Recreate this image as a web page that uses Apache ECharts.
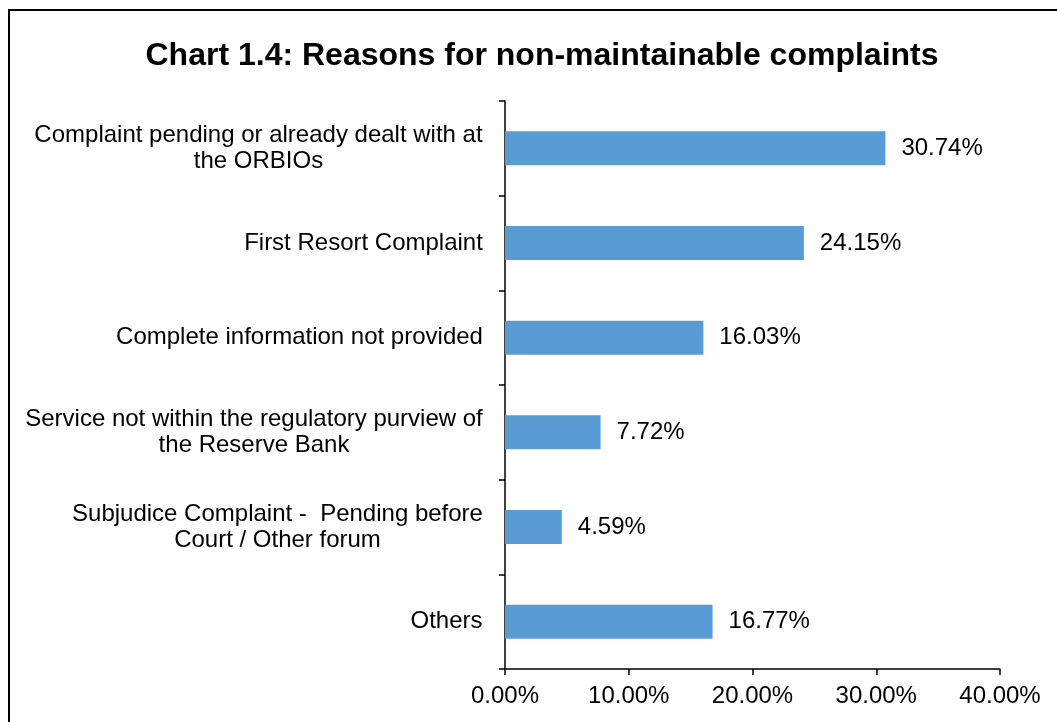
<!DOCTYPE html>
<html><head><meta charset="utf-8">
<script src="https://cdn.jsdelivr.net/npm/echarts@6/dist/echarts.min.js"></script>
<style>
html,body{margin:0;padding:0;background:#fff;overflow:hidden;}
#frame{position:absolute;left:8px;top:9px;width:1100px;height:800px;border:2px solid #000;box-sizing:border-box;}
#c{position:absolute;left:0;top:0;width:1057px;height:722px;}
</style></head><body>
<div id="frame"></div>
<div id="c"></div>
<script>
const categories = [
  "Complaint pending or already dealt with at\nthe ORBIOs",
  "First Resort Complaint",
  "Complete information not provided",
  "Service not within the regulatory purview of\nthe Reserve Bank",
  "Subjudice Complaint -  Pending before\nCourt / Other forum",
  "Others"
];
const values = [30.74, 24.15, 16.03, 7.72, 4.59, 16.77];
const xTicks = [0, 10, 20, 30, 40];
const titleText = "Chart 1.4: Reasons for non-maintainable complaints";

const FONT = '"Liberation Sans", Arial';
const ctx = document.createElement('canvas').getContext('2d');
ctx.font = '24px ' + FONT;
// each multi-line label: lines centered within its block, block right-aligned to axis
const rich = {};
const formatted = {};
categories.forEach((c, i) => {
  const lines = c.split('\n');
  const w = Math.ceil(Math.max(...lines.map(l => ctx.measureText(l).width)));
  rich['l' + i] = {width: w, align: 'center', fontSize: 24, fontFamily: FONT, color: '#000', lineHeight: 26};
  formatted[c] = lines.map(l => '{l' + i + '|' + l + '}').join('\n');
});

const chart = echarts.init(document.getElementById('c'));
chart.setOption({
  animation:false,
  title:{text:titleText,left:537,top:35,textAlign:'center',
    textStyle:{fontFamily:FONT,fontWeight:'bold',fontSize:32,color:'#000'}},
  grid:{left:505,top:101,right:57,bottom:53,containLabel:false},
  xAxis:{type:'value',min:xTicks[0],max:xTicks[xTicks.length-1],interval:10,
    axisLine:{show:true,lineStyle:{color:'#000',width:1.5}},
    axisTick:{show:true,length:6,lineStyle:{color:'#000',width:1.5}},
    splitLine:{show:false},
    axisLabel:{formatter:v=>v.toFixed(2)+'%',fontFamily:FONT,fontSize:24,color:'#000',margin:15}},
  yAxis:{type:'category',data:categories,inverse:true,
    axisLine:{show:true,lineStyle:{color:'#000',width:1.5}},
    axisTick:{show:true,length:6,lineStyle:{color:'#000',width:1.5}},
    axisLabel:{formatter:v=>formatted[v],rich:rich,fontFamily:FONT,fontSize:24,color:'#000',margin:22,lineHeight:26,align:'right'}},
  series:[{type:'bar',data:values,barWidth:34,
    itemStyle:{color:'#5B9BD5'},
    label:{show:true,position:'right',distance:16,formatter:p=>p.value.toFixed(2)+'%',
      fontFamily:FONT,fontSize:24,color:'#000'}}]
});
</script>
</body></html>
